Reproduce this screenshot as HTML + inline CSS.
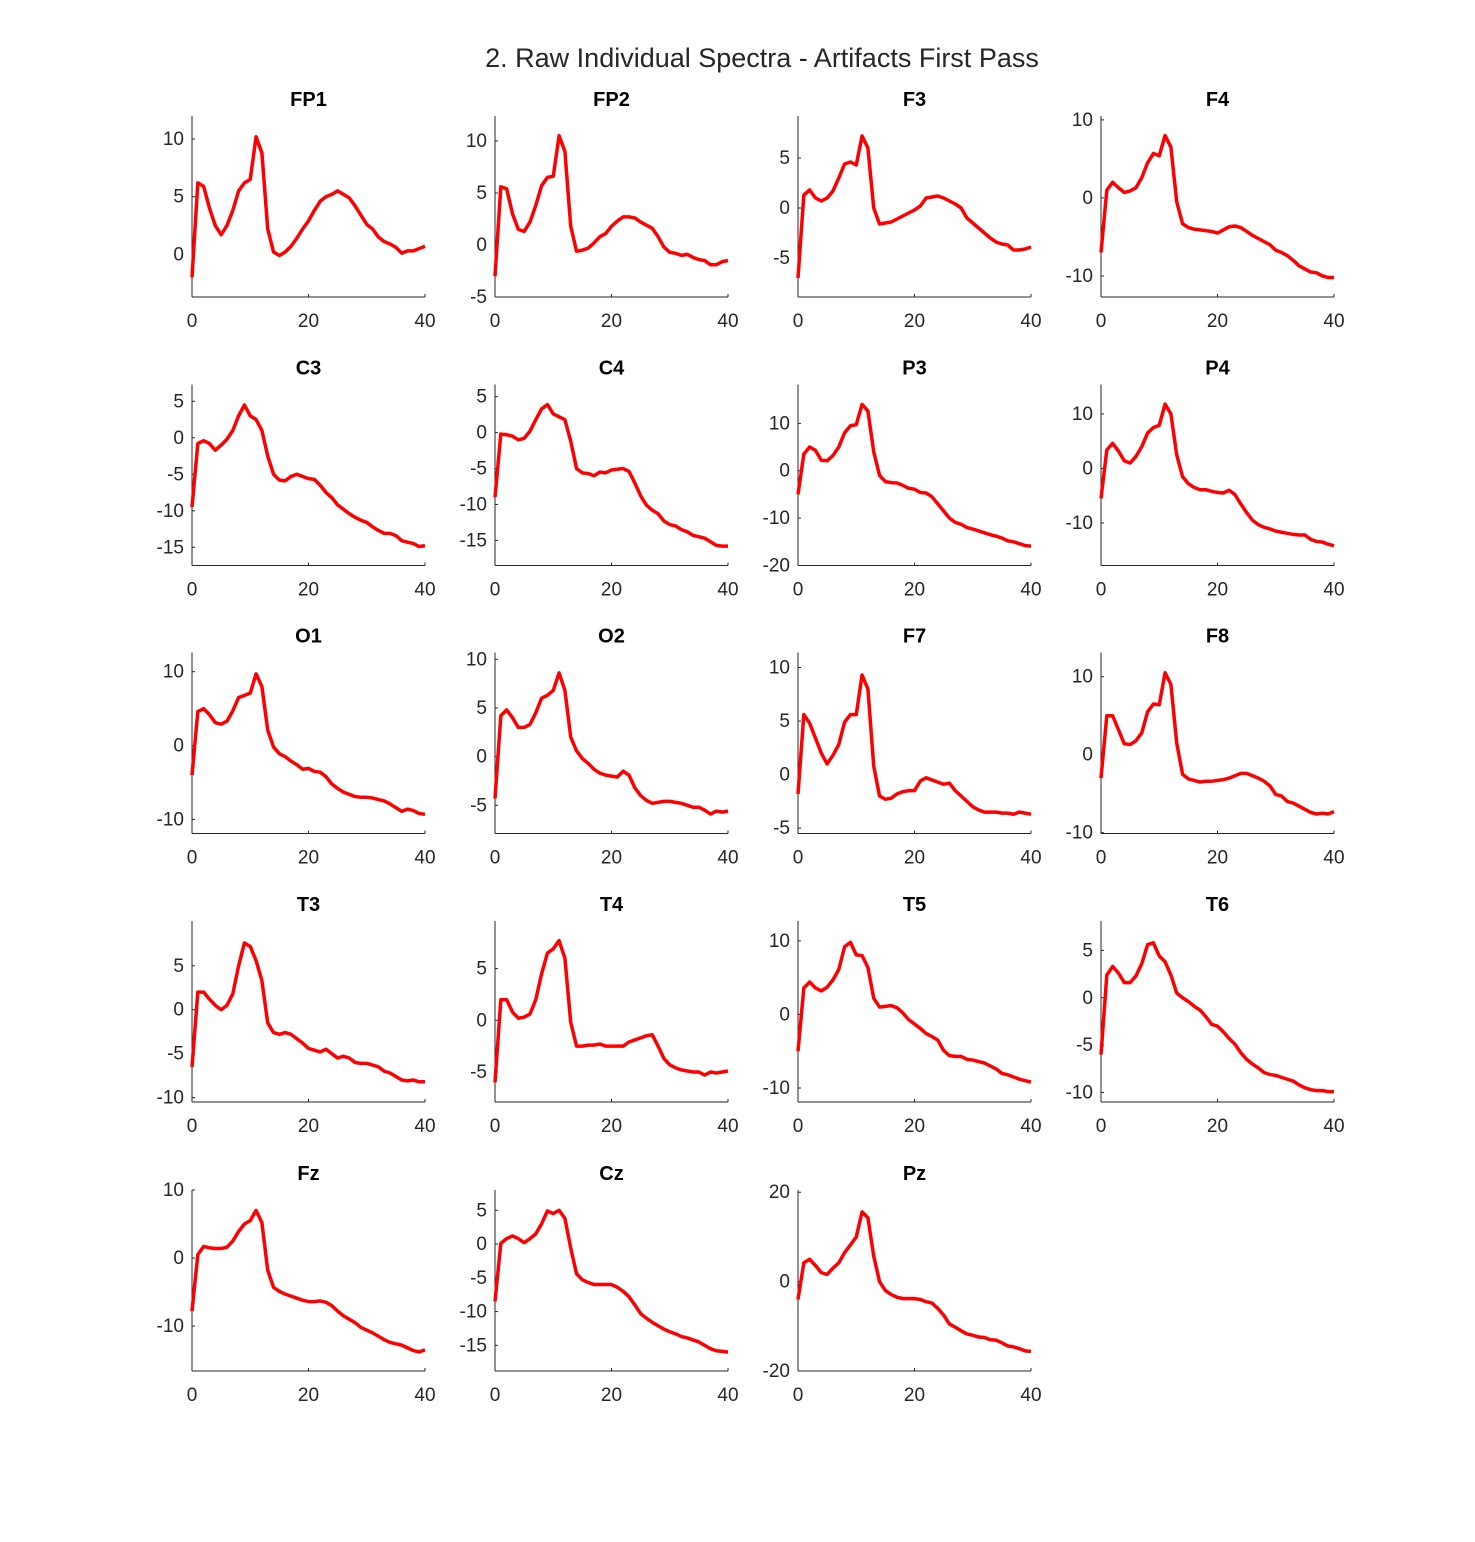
<!DOCTYPE html>
<html><head><meta charset="utf-8"><style>
body{margin:0;background:#fff;}
svg{display:block;font-family:"Liberation Sans",Arial,sans-serif;}
</style></head><body>
<svg id="fig" width="1475" height="1542" viewBox="0 0 1475 1542">
<rect width="1475" height="1542" fill="#fff"/>
<text x="762" y="67" text-anchor="middle" font-size="27" fill="#262626">2. Raw Individual Spectra - Artifacts First Pass</text>
</svg>
<script>
const channels=["FP1","FP2","F3","F4","C3","C4","P3","P4","O1","O2","F7","F8","T3","T4","T5","T6","Fz","Cz","Pz"];
const xTicks=[0,20,40];
const yLims=[[-3.7,12],[-5,12.4],[-8.9,9.2],[-12.7,10.5],[-17.5,7.3],[-18.5,6.7],[-20,18.2],[-17.8,15.4],[-11.9,12.6],[-7.9,10.7],[-5.5,11.4],[-10.1,13.1],[-10.5,10.1],[-7.9,9.6],[-11.9,12.7],[-11,8.1],[-16.6,10],[-18.8,8],[-20,20.5]];
const yTicks=[[0,5,10],[-5,0,5,10],[-5,0,5],[-10,0,10],[-15,-10,-5,0,5],[-15,-10,-5,0,5],[-20,-10,0,10],[-10,0,10],[-10,0,10],[-5,0,5,10],[-5,0,5,10],[-10,0,10],[-10,-5,0,5],[-5,0,5],[-10,0,10],[-10,-5,0,5],[-10,0,10],[-15,-10,-5,0,5],[-20,0,20]];
const sFP1=[-2,6.2,5.9,4,2.5,1.7,2.5,3.8,5.5,6.2,6.5,10.2,8.8,2.2,0.2,-0.1,0.2,0.7,1.4,2.2,2.9,3.8,4.6,5,5.2,5.5,5.2,4.9,4.2,3.4,2.6,2.2,1.5,1.1,0.9,0.6,0.1,0.3,0.3,0.5,0.7];
const sFP2=[-3,5.6,5.4,3,1.5,1.3,2.2,3.8,5.7,6.5,6.6,10.5,9,1.8,-0.6,-0.5,-0.3,0.2,0.8,1.1,1.8,2.3,2.7,2.7,2.6,2.2,1.9,1.6,0.8,-0.2,-0.7,-0.8,-1,-0.9,-1.2,-1.4,-1.5,-1.9,-1.9,-1.6,-1.5];
const sF3=[-7,1.3,1.8,1,0.7,1,1.7,3,4.4,4.6,4.3,7.2,6,0,-1.6,-1.5,-1.4,-1.1,-0.8,-0.5,-0.2,0.2,1,1.1,1.2,1,0.7,0.4,0,-1,-1.5,-2,-2.5,-3,-3.4,-3.6,-3.7,-4.2,-4.2,-4.1,-3.9];
const sF4=[-7,1,2,1.3,0.7,0.9,1.3,2.6,4.5,5.7,5.4,8,6.5,-0.5,-3.3,-3.8,-4,-4.1,-4.2,-4.3,-4.5,-4.1,-3.7,-3.6,-3.8,-4.3,-4.8,-5.2,-5.6,-6,-6.7,-7,-7.4,-8,-8.7,-9.1,-9.5,-9.6,-10,-10.2,-10.2];
const sC3=[-9.5,-0.8,-0.4,-0.8,-1.7,-1,-0.2,1,3,4.5,3,2.5,1,-2.5,-5,-5.8,-5.9,-5.3,-5,-5.3,-5.6,-5.7,-6.5,-7.5,-8.2,-9.2,-9.8,-10.4,-10.9,-11.3,-11.6,-12.2,-12.7,-13.1,-13.1,-13.4,-14.1,-14.3,-14.5,-14.9,-14.8];
const sC4=[-9,-0.2,-0.3,-0.5,-1,-0.8,0.2,1.8,3.3,3.9,2.6,2.2,1.8,-1.2,-5,-5.6,-5.7,-6,-5.5,-5.6,-5.2,-5.1,-5,-5.4,-7,-8.8,-10.1,-10.8,-11.3,-12.3,-12.8,-13,-13.5,-13.8,-14.3,-14.5,-14.7,-15.2,-15.7,-15.8,-15.8];
const sP3=[-5,3.5,5,4.3,2.2,2.1,3.2,5,8,9.5,9.7,14,12.6,4,-1,-2.3,-2.5,-2.6,-3.1,-3.7,-3.9,-4.6,-4.7,-5.5,-7,-8.5,-10,-10.9,-11.3,-12,-12.3,-12.7,-13.1,-13.5,-13.8,-14.2,-14.8,-15,-15.4,-15.8,-15.9];
const sP4=[-5.5,3.4,4.6,3.2,1.4,1,2.2,4,6.5,7.5,7.9,11.8,10,2.5,-1.5,-2.8,-3.5,-3.9,-3.9,-4.2,-4.4,-4.5,-4,-4.8,-6.5,-8.1,-9.5,-10.3,-10.8,-11.1,-11.5,-11.7,-11.9,-12.1,-12.2,-12.2,-13,-13.4,-13.5,-13.9,-14.2];
const sO1=[-4,4.6,5,4.2,3.1,2.9,3.3,4.7,6.5,6.8,7.1,9.7,8,2.1,-0.2,-1.1,-1.5,-2.1,-2.6,-3.2,-3.1,-3.5,-3.6,-4.2,-5.2,-5.8,-6.3,-6.6,-6.9,-7,-7,-7.1,-7.3,-7.5,-7.9,-8.4,-8.9,-8.6,-8.8,-9.2,-9.3];
const sO2=[-4.3,4.2,4.8,4,3,3,3.3,4.5,6,6.3,6.8,8.6,6.8,2,0.6,-0.2,-0.7,-1.3,-1.7,-1.9,-2,-2.1,-1.5,-1.9,-3.2,-4,-4.5,-4.8,-4.7,-4.6,-4.6,-4.7,-4.8,-5,-5.2,-5.2,-5.5,-5.9,-5.6,-5.7,-5.6];
const sF7=[-1.8,5.6,4.8,3.4,2,1,1.8,2.8,4.9,5.6,5.6,9.3,8,0.8,-2,-2.3,-2.2,-1.8,-1.6,-1.5,-1.5,-0.6,-0.3,-0.5,-0.7,-0.9,-0.8,-1.5,-2,-2.5,-3,-3.3,-3.5,-3.5,-3.5,-3.6,-3.6,-3.7,-3.5,-3.6,-3.7];
const sF8=[-3,5,5,3.2,1.4,1.3,1.8,2.8,5.5,6.5,6.4,10.5,9,1.5,-2.5,-3.1,-3.3,-3.5,-3.4,-3.4,-3.3,-3.2,-3,-2.7,-2.4,-2.4,-2.7,-3,-3.4,-4,-5.1,-5.3,-6,-6.2,-6.6,-7,-7.4,-7.6,-7.5,-7.6,-7.3];
const sT3=[-6.5,2,2,1.2,0.5,0,0.5,1.8,5,7.6,7.2,5.6,3.3,-1.5,-2.6,-2.8,-2.6,-2.8,-3.3,-3.8,-4.4,-4.6,-4.8,-4.5,-5,-5.5,-5.3,-5.5,-6,-6.1,-6.1,-6.3,-6.5,-7,-7.2,-7.6,-8,-8.1,-8,-8.2,-8.2];
const sT4=[-6,2,2,0.8,0.2,0.3,0.6,2,4.5,6.5,6.9,7.7,6,-0.2,-2.5,-2.5,-2.4,-2.4,-2.3,-2.5,-2.5,-2.5,-2.5,-2.1,-1.9,-1.7,-1.5,-1.4,-2.5,-3.7,-4.3,-4.6,-4.8,-4.9,-5,-5,-5.3,-5,-5.1,-5,-4.9];
const sT5=[-5,3.6,4.4,3.6,3.2,3.7,4.7,6.1,9.2,9.8,8.1,8,6.4,2.2,1,1.1,1.2,0.9,0.2,-0.7,-1.3,-1.9,-2.6,-3,-3.5,-4.9,-5.6,-5.7,-5.7,-6.1,-6.2,-6.4,-6.6,-7,-7.4,-8,-8.2,-8.5,-8.8,-9,-9.2];
const sT6=[-6,2.4,3.3,2.6,1.6,1.6,2.3,3.6,5.6,5.8,4.4,3.8,2.4,0.5,0,-0.4,-0.9,-1.3,-2,-2.8,-3,-3.6,-4.3,-4.9,-5.8,-6.5,-7,-7.4,-7.9,-8.1,-8.2,-8.4,-8.6,-8.8,-9.2,-9.5,-9.7,-9.8,-9.8,-9.9,-9.9];
const sFz=[-7.8,0.5,1.7,1.5,1.4,1.4,1.6,2.5,3.9,5,5.5,7,5.2,-1.8,-4.3,-4.9,-5.3,-5.6,-5.9,-6.2,-6.4,-6.4,-6.3,-6.5,-7,-7.8,-8.5,-9,-9.5,-10.2,-10.6,-11,-11.5,-12,-12.4,-12.6,-12.8,-13.2,-13.6,-13.8,-13.5];
const sCz=[-8.5,0.1,0.8,1.2,0.8,0.2,0.8,1.5,3,4.9,4.5,5,3.8,-0.6,-4.4,-5.3,-5.7,-6,-6,-6,-6,-6.4,-7,-7.8,-9,-10.3,-11,-11.6,-12.1,-12.6,-13,-13.3,-13.7,-13.9,-14.2,-14.5,-15,-15.5,-15.8,-15.9,-16];
const sPz=[-4,4.2,5,3.6,2,1.6,3,4.2,6.5,8.2,10,15.6,14.3,5.7,0,-2,-2.9,-3.5,-3.8,-3.8,-3.8,-4,-4.5,-4.8,-6,-7.5,-9.5,-10.2,-11,-11.7,-12,-12.4,-12.5,-13,-13.1,-13.7,-14.4,-14.6,-15,-15.5,-15.6];
const series=[sFP1,sFP2,sF3,sF4,sC3,sC4,sP3,sP4,sO1,sO2,sF7,sF8,sT3,sT4,sT5,sT6,sFz,sCz,sPz];

const NS="http://www.w3.org/2000/svg";
const svg=document.getElementById('fig');
const colL=[192,495,798,1101], rowT=[116,384.5,652.5,921,1190], W=233, H=181;
function mk(tag,attrs,parent){const e=document.createElementNS(NS,tag);for(const k in attrs)e.setAttribute(k,attrs[k]);parent.appendChild(e);return e;}
channels.forEach((ch,i)=>{
  const L=colL[i%4], T=rowT[Math.floor(i/4)], B=T+H;
  const [y0,y1]=yLims[i];
  const sx=v=>L+v/40*W;
  const sy=v=>B-(v-y0)/(y1-y0)*H;
  const g=mk('g',{},svg);
  
  
  const t=mk('text',{x:L+W/2,y:T-10,'text-anchor':'middle','font-size':20,'font-weight':'bold',fill:'#000'},g);
  t.textContent=ch;
  
  
  const ya=mk('line',{x1:L,y1:T,x2:L,y2:B,stroke:'#262626','stroke-width':1},g);
  
  
  const xa=mk('line',{x1:L,y1:B,x2:L+W,y2:B,stroke:'#262626','stroke-width':1},g);
  
  
  xTicks.forEach(v=>{
    mk('line',{x1:sx(v),y1:B,x2:sx(v),y2:B-3,stroke:'#262626'},g);
    const tl=mk('text',{x:sx(v),y:B+30,'text-anchor':'middle','font-size':19,fill:'#262626'},g);
    tl.textContent=v;
    
    
  });
  yTicks[i].forEach(v=>{
    mk('line',{x1:L,y1:sy(v),x2:L+3,y2:sy(v),stroke:'#262626'},g);
    const tl=mk('text',{x:L-8,y:sy(v)+6,'text-anchor':'end','font-size':19,fill:'#262626'},g);
    tl.textContent=v;
    
    
  });
  const s=series[i], n=s.length;
  const d=s.map((v,k)=>(k?'L':'M')+sx(k*40/(n-1)).toFixed(2)+','+sy(v).toFixed(2)).join('');
  const p=mk('path',{d:d,fill:'none',stroke:'#ff0000','stroke-width':3.5,'stroke-linejoin':'round'},g);
  
  
});
</script>
</body></html>
